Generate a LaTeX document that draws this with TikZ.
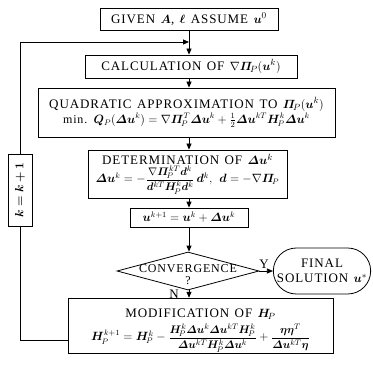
\documentclass[tikz,border=0pt]{standalone}
\usepackage{amsmath,amssymb}
\usepackage{bm}
\usepackage{fontspec}
\setmainfont{Liberation Serif}[LetterSpace=7,WordSpace=1.3]
\usetikzlibrary{arrows.meta,shapes.geometric,shapes.misc}

\newcommand{\bu}{\bm{u}}
\newcommand{\du}{\bm{\varDelta u}}
\newcommand{\PiP}{\bm{\varPi}_{\!P}}
\newcommand{\HP}{\bm{H}_{\!P}}
\newcommand{\formsize}{\fontsize{12}{14}\selectfont}
\newcommand{\smallfrac}[2]{\mbox{\fontsize{11}{12}\selectfont$\dfrac{#1}{#2}$}}

\begin{document}
\begin{tikzpicture}[
    x=1pt, y=-1pt,
    font=\fontsize{13}{15}\selectfont,
    process/.style={rectangle, draw=black, line width=0.8pt, align=center, inner sep=1.5pt},
    decision/.style={diamond, draw=black, line width=0.8pt, inner sep=0pt},
    terminal/.style={rounded rectangle, draw=black, line width=0.8pt, align=center},
    arrow/.style={-{Triangle[length=6pt,width=5pt]}, line width=0.8pt}
]
    \useasboundingbox (0,0) rectangle (372,374);

    % Main flow
    \node[process, minimum width=178, minimum height=22] (given) at (189,19)
        {GIVEN $\bm{A}$, $\bm{\ell}$ ASSUME $\bu^0$};
    \node[process, minimum width=212, minimum height=23] (calc) at (191,66.5)
        {CALCULATION OF $\nabla\PiP(\bu^k)$};
    \node[process, minimum width=297, minimum height=49] (quad) at (186.5,112.5)
        {QUADRATIC APPROXIMATION TO $\PiP(\bu^k)$\\
         {\formsize min. $\bm{Q}_P(\du^k)=\nabla\PiP^T\du^k+\frac{1}{2}\du^{kT}\HP^k\du^k$}};
    \node[process, minimum width=199, minimum height=48] (det) at (187.5,174)
        {DETERMINATION OF $\du^k$\\
         {\formsize $\du^k=-\smallfrac{\nabla\PiP^{kT}\bm{d}^k}{\bm{d}^{kT}\HP^k\bm{d}^k}\,\bm{d}^k,\ \bm{d}=-\nabla\PiP$}};
    \node[process, minimum width=118, minimum height=19] (update) at (189,217.5)
        {\formsize $\bu^{k+1}=\bu^k+\du^k$};

    % Convergence test
    \node[decision, minimum width=142, minimum height=38] (conv) at (188,271) {};
    \node[align=center, font=\fontsize{12}{12}\selectfont] (convtext) at (188,275) {CONVERGENCE\\?};
    \node[terminal, minimum width=104, minimum height=46] (final) at (322,271)
        {FINAL\\SOLUTION $\bu^*$};
    \node[process, minimum width=265, minimum height=52] (modif) at (200.5,326)
        {\rule{0pt}{18pt}MODIFICATION OF $\HP$\\[3pt]
         {\formsize $\HP^{k+1}=\HP^k-\smallfrac{\HP^k\du^k\du^{kT}\HP^k}{\du^{kT}\HP^k\du^k}
          +\smallfrac{\bm{\eta\eta}^T}{\du^{kT}\bm{\eta}}$}};
    \node (ylabel) at (264,264) {Y};
    \node (nlabel) at (174,294) {N};

    % Loop counter
    \node[process, rotate=90, minimum width=72, minimum height=24] (kstep) at (20,190)
        {\formsize $\bm{k=k+1}$};
    \coordinate (back) at (20,340);
    \coordinate (corner) at (20,42);
    \coordinate (join) at (189,42);

    % Connections
    \draw[arrow] (given.south) -- (given.south |- calc.north);
    \draw[arrow] (calc.south -| join) -- (quad.north -| join);
    \draw[arrow] (quad.south -| join) -- (det.north -| join);
    \draw[arrow] (det.south -| join) -- (update.north -| join);
    \draw[arrow] (update.south -| join) -- (conv.north -| join);
    \draw[arrow] (conv.south -| join) -- (modif.north -| join);
    \draw[arrow] (conv.east) -- (final.west);

    % Feedback loop
    \draw[line width=0.8pt] (modif.west |- back) -- (back) -- (kstep);
    \draw[arrow] (kstep) -- (corner) -- (join);
\end{tikzpicture}
\end{document}
